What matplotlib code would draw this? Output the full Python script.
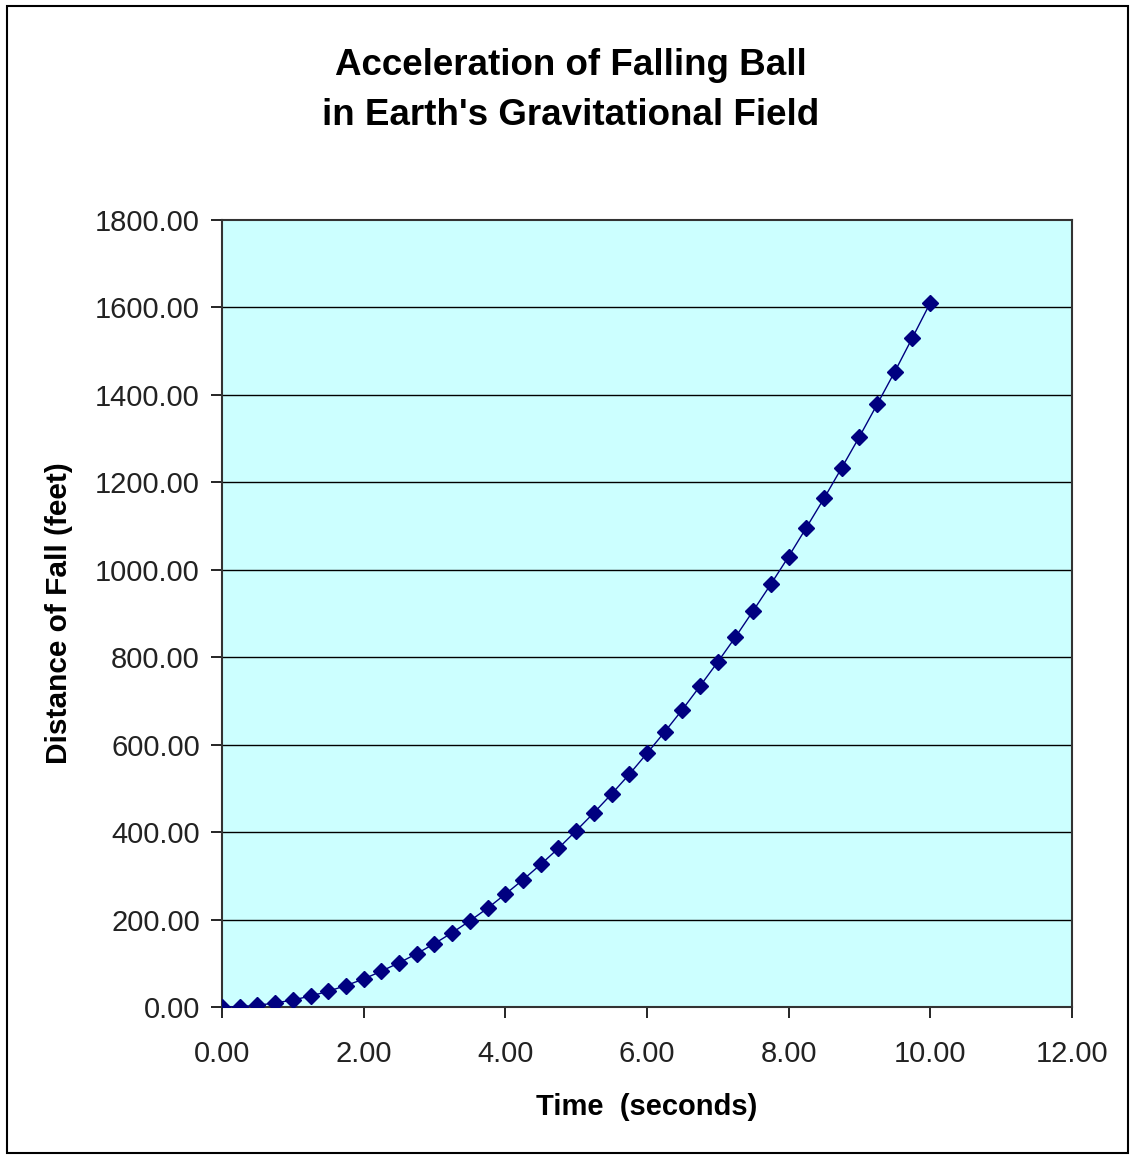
import matplotlib.pyplot as plt
from matplotlib.patches import Rectangle
from matplotlib.ticker import FormatStrFormatter

# time (s) and distance fallen (ft)
time_s = [0.00, 0.25, 0.50, 0.75, 1.00, 1.25, 1.50, 1.75, 2.00, 2.25,
          2.50, 2.75, 3.00, 3.25, 3.50, 3.75, 4.00, 4.25, 4.50, 4.75,
          5.00, 5.25, 5.50, 5.75, 6.00, 6.25, 6.50, 6.75, 7.00, 7.25,
          7.50, 7.75, 8.00, 8.25, 8.50, 8.75, 9.00, 9.25, 9.50, 9.75, 10.00]
distance_ft = [0, 1, 4, 9, 16, 25, 36, 49, 64, 82,
               101, 122, 145, 170, 197, 226, 258, 291, 326, 363,
               403, 444, 487, 532, 580, 629, 680, 734, 789, 846,
               906, 967, 1030, 1096, 1163, 1233, 1304, 1378, 1453, 1531, 1610]

x_ticks = [0, 2, 4, 6, 8, 10, 12]
y_ticks = [0, 200, 400, 600, 800, 1000, 1200, 1400, 1600, 1800]

plt.rcParams['font.family'] = ['Liberation Sans', 'DejaVu Sans']

fig = plt.figure(figsize=(11.3, 11.56), dpi=100)
ax = fig.add_axes([0.1965, 0.1289, 0.752, 0.6808])

# outer chart border
fig.patches.append(Rectangle((0.006, 0.003), 0.992, 0.992, transform=fig.transFigure,
                             fill=False, edgecolor='black', linewidth=1.5))

ax.set_facecolor('#CCFFFF')
for y in y_ticks[1:-1]:
    ax.axhline(y, color='black', linewidth=1.0, zorder=1)

ax.plot(time_s, distance_ft, color='#000080', linewidth=1.0, marker='D',
        markersize=8, markerfacecolor='#000080', markeredgecolor='#000080', zorder=3)

ax.set_xlim(0, 12)
ax.set_ylim(0, 1800)
ax.set_xticks(x_ticks)
ax.set_yticks(y_ticks)
ax.xaxis.set_major_formatter(FormatStrFormatter('%.2f'))
ax.yaxis.set_major_formatter(FormatStrFormatter('%.2f'))
ax.tick_params(direction='out', length=8, width=1.2, labelsize=21,
               colors='black', labelcolor='#222222')
ax.tick_params(axis='x', pad=16)
ax.tick_params(axis='y', pad=8)
for sp in ax.spines.values():
    sp.set_linewidth(1.5)
    sp.set_color('#333333')

ax.set_xlabel('Time  (seconds)', fontsize=21, fontweight='bold', labelpad=18)
ax.set_ylabel('Distance of Fall (feet)', fontsize=21.5, fontweight='bold', labelpad=16)

# two-line title
fig.text(0.505, 0.9435, 'Acceleration of Falling Ball', ha='center', va='center',
         fontsize=26.5, fontweight='bold')
fig.text(0.505, 0.9005, 'in Earth\'s Gravitational Field', ha='center', va='center',
         fontsize=26.5, fontweight='bold')

fig.savefig('out.png', dpi=100)
